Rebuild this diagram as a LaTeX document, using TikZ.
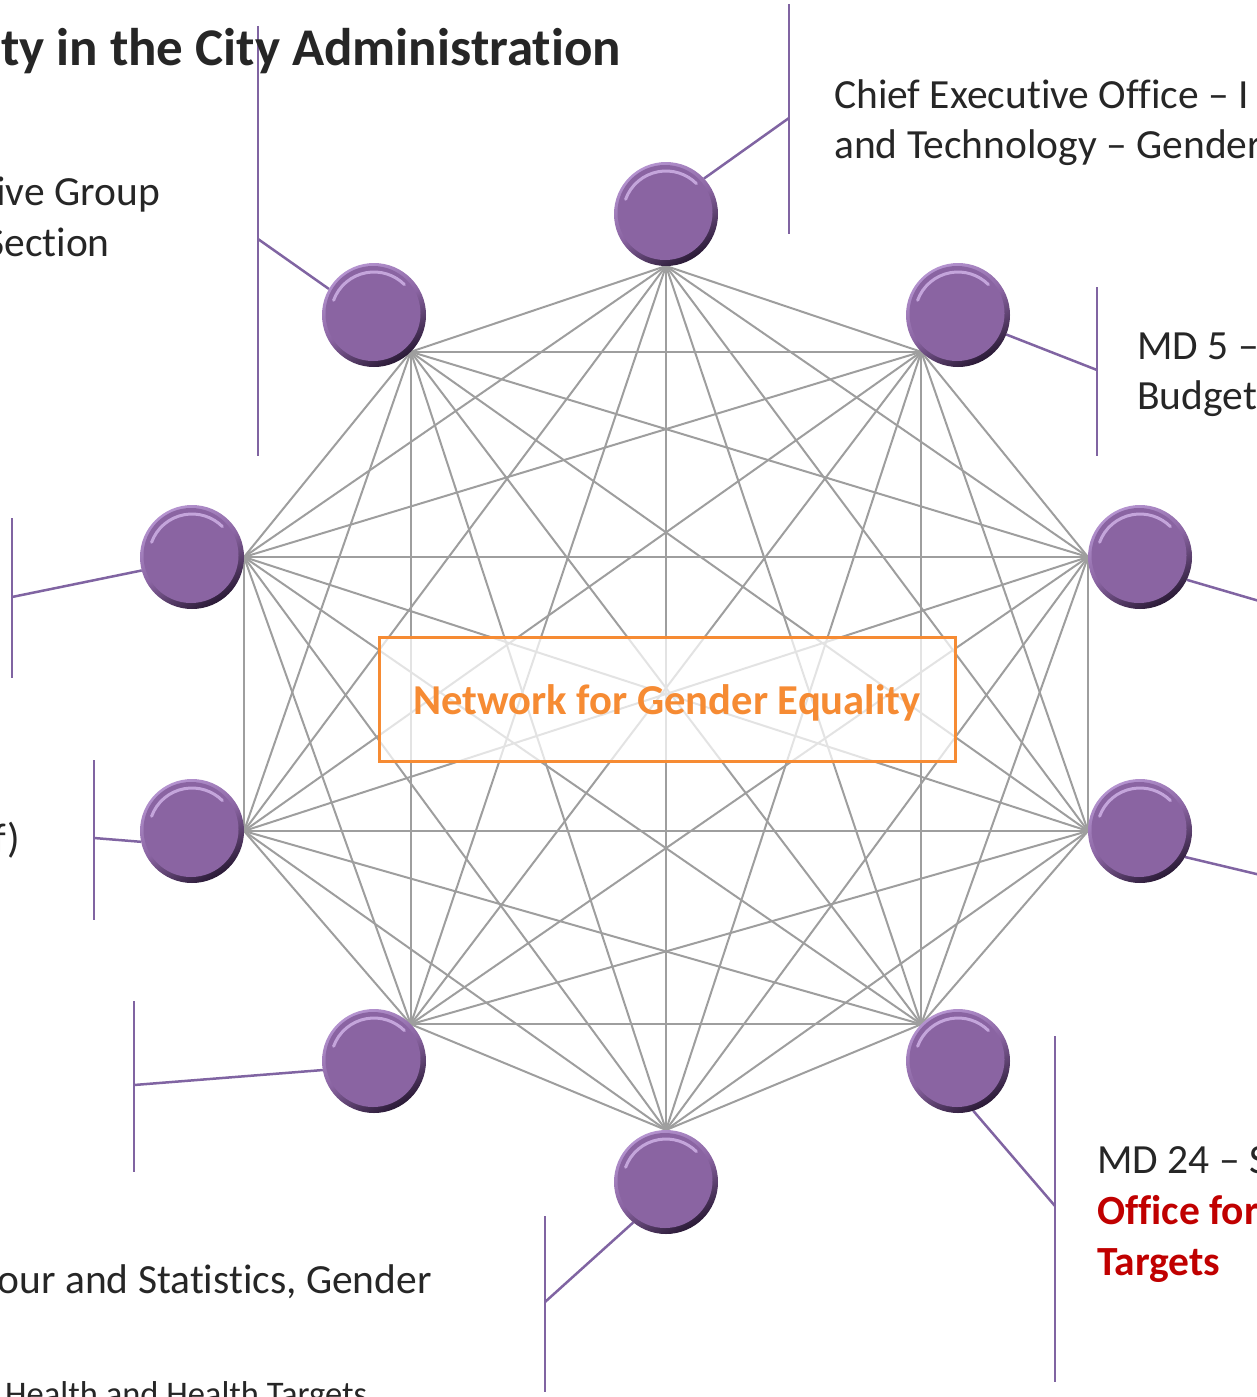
\documentclass[tikz,border=0pt]{standalone}
\usepackage{fontspec}
\setmainfont{Carlito}[Ligatures=NoCommon]
\definecolor{edgegray}{HTML}{9E9E9E}
\definecolor{calloutpurple}{HTML}{8064A2}
\definecolor{ballbase}{HTML}{8A64A2}
\definecolor{balllight}{HTML}{B594D0}
\definecolor{ballhi}{HTML}{D8BCEF}
\definecolor{balldark}{HTML}{2A1A36}
\definecolor{orangec}{HTML}{F68B33}
\definecolor{textdark}{HTML}{262626}
\definecolor{redtext}{HTML}{C00000}
\pgfdeclarelayer{background}
\pgfsetlayers{background,main}
\begin{document}
\begin{tikzpicture}[x=1pt,y=-1pt,
  gl/.style={draw=edgegray, line width=2pt},
  pl/.style={draw=calloutpurple, line width=2.5pt},
  ball/.style={circle, minimum size=104pt, inner sep=0pt, outer sep=0pt,
    top color=balllight, bottom color=balldark, middle color=ballbase, shading angle=30,
    path picture={
      \fill[ballbase] ([xshift=-1pt,yshift=1.5pt]path picture bounding box.center) circle (47.5pt);
      \draw[ballhi, line width=3pt, line cap=round, opacity=0.75]
        ([shift={(160:43pt)}]path picture bounding box.center) arc[start angle=160, end angle=45, radius=43pt];
    }},
  txt/.style={font=\fontsize{41.5}{50}\selectfont, text=textdark, inner sep=0pt},
  smalltxt/.style={font=\fontsize{34.5}{40}\selectfont, text=textdark, inner sep=0pt},
  redtxt/.style={font=\bfseries\fontsize{41.5}{50}\selectfont, text=redtext, inner sep=0pt},
]
\useasboundingbox (0,0) rectangle (1256,1397);
\clip (0,0) rectangle (1256,1397);

% balls
\node[ball] (b1) at (666,214) {};
\node[ball] (b2) at (374,315) {};
\node[ball] (b3) at (958,315) {};
\node[ball] (b4) at (192,557) {};
\node[ball] (b5) at (1140,557) {};
\node[ball] (b6) at (192,831) {};
\node[ball] (b7) at (1140,831) {};
\node[ball] (b8) at (374,1061) {};
\node[ball] (b9) at (958,1061) {};
\node[ball] (b10) at (666,1182) {};

% network vertices on ball borders
\coordinate (v1) at (b1.south);
\coordinate (v2) at (b2.-45);
\coordinate (v3) at (b3.-135);
\coordinate (v4) at (b4.east);
\coordinate (v5) at (b5.west);
\coordinate (v6) at (b6.east);
\coordinate (v7) at (b7.west);
\coordinate (v8) at (b8.45);
\coordinate (v9) at (b9.135);
\coordinate (v10) at (b10.north);

% callout coordinates
\coordinate (c1a) at (789,4);    \coordinate (c1b) at (789,234);  \coordinate (c1j) at (789,118);
\coordinate (c2a) at (258,26);   \coordinate (c2b) at (258,456);  \coordinate (c2j) at (258,239);
\coordinate (c3a) at (1097,287); \coordinate (c3b) at (1097,456); \coordinate (c3j) at (1097,370);
\coordinate (c4a) at (12,518);   \coordinate (c4b) at (12,678);   \coordinate (c4j) at (12,597);
\coordinate (c5j) at (1290,610);
\coordinate (c6a) at (94,760);   \coordinate (c6b) at (94,920);   \coordinate (c6j) at (94,838);
\coordinate (c7j) at (1290,882);
\coordinate (c8a) at (134,1001); \coordinate (c8b) at (134,1172); \coordinate (c8j) at (134,1085);
\coordinate (c9a) at (1055,1036);\coordinate (c9b) at (1055,1382);\coordinate (c9j) at (1055,1206);
\coordinate (c10a) at (545,1216);\coordinate (c10b) at (545,1392);\coordinate (c10j) at (545,1302);

\begin{pgfonlayer}{background}
  \foreach \i [evaluate=\i as \k using int(\i+1)] in {1,...,9} {
    \foreach \j in {\k,...,10} {
      \draw[gl] (v\i) -- (v\j);
    }
  }
  \node[draw=orangec, line width=3pt, fill=white, fill opacity=0.72,
        minimum width=576pt, minimum height=124pt, inner sep=0pt] (box) at (667,699) {};
  % callouts
  \draw[pl] (c1a) -- (c1b);  \draw[pl] (b1.43) -- (c1j);
  \draw[pl] (c2a) -- (c2b);  \draw[pl] (b2.150) -- (c2j);
  \draw[pl] (c3a) -- (c3b);  \draw[pl] (b3.-22) -- (c3j);
  \draw[pl] (c4a) -- (c4b);  \draw[pl] (b4.195) -- (c4j);
  \draw[pl] (b5.-26) -- (c5j);
  \draw[pl] (c6a) -- (c6b);  \draw[pl] (b6.192) -- (c6j);
  \draw[pl] (b7.-30) -- (c7j);
  \draw[pl] (c8a) -- (c8b);  \draw[pl] (b8.190) -- (c8j);
  \draw[pl] (c9a) -- (c9b);  \draw[pl] (b9.-73) -- (c9j);
  \draw[pl] (c10a) -- (c10b); \draw[pl] (b10.231) -- (c10j);
\end{pgfonlayer}

% box label
\node[anchor=base, inner sep=0pt, text=orangec, font=\bfseries\fontsize{42.6}{50}\selectfont] (net) at (667,714) {Network for Gender Equality};

% title
\node[anchor=base east, inner sep=0pt, text=textdark, font=\bfseries\fontsize{53}{60}\selectfont] (title) at (621,66) {ty in the City Administration};

% right-side labels
\node[txt, anchor=base west] (t1a) at (834,108) {Chief Executive Office – I};
\node[txt, anchor=base west] (t1b) at (834,158) {and Technology – Gender};
\node[txt, anchor=base west] (t3a) at (1137,359) {MD 5 –};
\node[txt, anchor=base west] (t3b) at (1137,409) {Budget};
\node[txt, anchor=base west] (t9a) at (1097,1173) {MD 24 – S};
\node[redtxt, anchor=base west] (t9b) at (1097,1224) {Office for};
\node[redtxt, anchor=base west] (t9c) at (1097,1275) {Targets};

% left-side labels
\node[txt, anchor=base east] (t2a) at (160,205) {ive Group};
\node[txt, anchor=base east] (t2b) at (110,256) {Section};
\node[txt, anchor=base east] (t6) at (20,852) {f)};
\node[txt, anchor=base east] (t10a) at (432,1293) {our and Statistics, Gender};
\node[smalltxt, anchor=base west] (t10b) at (5,1405) {Health and Health Targets};
\end{tikzpicture}
\end{document}
